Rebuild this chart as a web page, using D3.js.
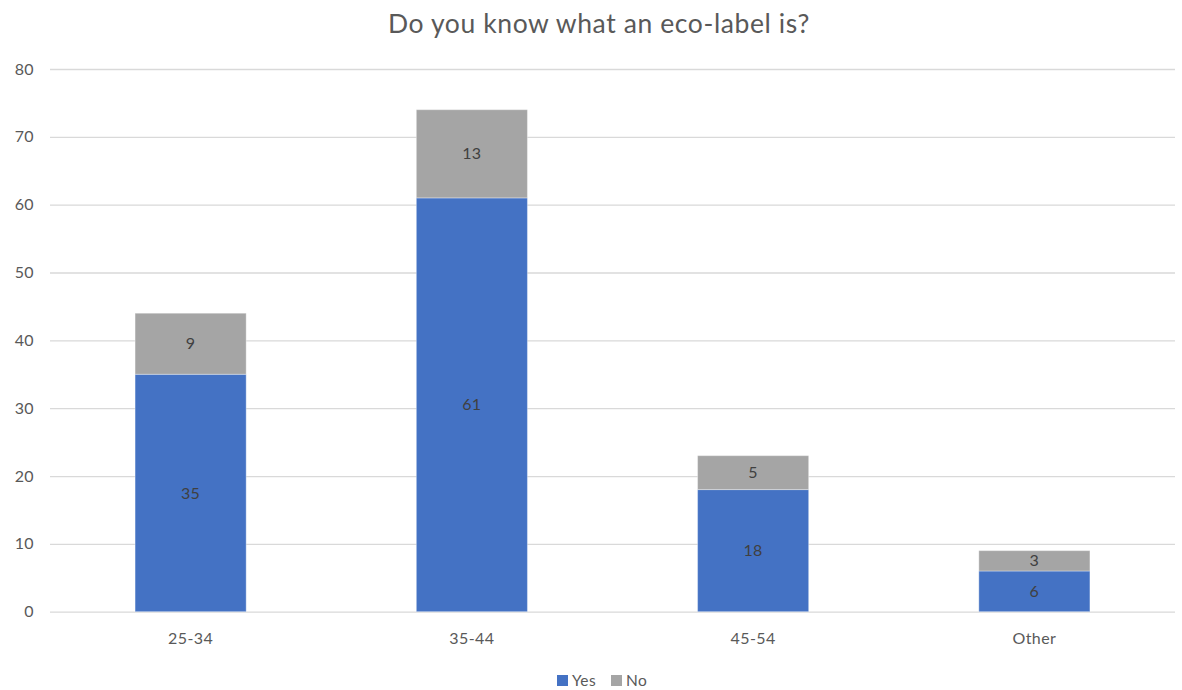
<!DOCTYPE html>
<html>
<head>
<meta charset="utf-8">
<script src="https://cdn.jsdelivr.net/npm/d3@7"></script>
<style>
  html, body { margin: 0; padding: 0; background: #fff; }
  svg { display: block; font-family: Lato, "Open Sans", sans-serif; }
</style>
</head>
<body>
<svg id="chart" width="1182" height="690"></svg>
<script>
// Survey responses by age group
const categories = ["25-34", "35-44", "45-54", "Other"];
const yesValues = [35, 61, 18, 6];
const noValues = [9, 13, 5, 3];
const seriesNames = ["Yes", "No"];
const seriesColors = ["#4472C4", "#A5A5A5"];
const yTicks = [0, 10, 20, 30, 40, 50, 60, 70, 80];

const svg = d3.select("#chart");
const margin = { left: 50, right: 7, top: 69, bottom: 78 };
const W = 1182, H = 690;

const x = d3.scaleBand()
  .domain(categories)
  .range([margin.left, W - margin.right])
  .paddingInner(0.605)
  .paddingOuter(0.3025);

const y = d3.scaleLinear()
  .domain([0, 80])
  .range([H - margin.bottom - 0.3, margin.top]);

// Title
svg.append("text")
  .attr("x", 599)
  .attr("y", 33)
  .attr("text-anchor", "middle")
  .attr("font-size", 26.5)
  .attr("letter-spacing", 0.6)
  .attr("fill", "#595959")
  .text("Do you know what an eco-label is?");

// Gridlines and y tick labels
const yAxis = d3.axisLeft(y)
  .tickValues(yTicks)
  .tickSize(-(W - margin.right - margin.left))
  .tickPadding(16);
const gy = svg.append("g")
  .attr("transform", `translate(${margin.left},0)`)
  .call(yAxis);
gy.select(".domain").remove();
gy.selectAll(".tick line").attr("stroke", "#D9D9D9").attr("stroke-width", 1.3);
gy.selectAll(".tick text")
  .attr("fill", "#595959")
  .attr("font-size", 16)
  .attr("letter-spacing", 0.4)
  .attr("font-family", "Lato, sans-serif");

// Stacked data
const rows = categories.map((c, i) => ({ category: c, Yes: yesValues[i], No: noValues[i] }));
const stack = d3.stack().keys(seriesNames);
const layers = stack(rows);

const color = d3.scaleOrdinal().domain(seriesNames).range(seriesColors);

const layerG = svg.append("g").selectAll("g")
  .data(layers)
  .join("g")
  .attr("fill", d => color(d.key));

layerG.selectAll("rect")
  .data(d => d)
  .join("rect")
  .attr("x", d => x(d.data.category))
  .attr("width", x.bandwidth())
  .attr("y", d => y(d[1]))
  .attr("height", d => y(d[0]) - y(d[1]))
  .attr("stroke", "#ffffff")
  .attr("stroke-opacity", 0.35)
  .attr("stroke-width", 1);

// Value labels centred in each segment
layerG.selectAll("text")
  .data(d => d)
  .join("text")
  .attr("x", d => x(d.data.category) + x.bandwidth() / 2)
  .attr("y", d => (y(d[0]) + y(d[1])) / 2)
  .attr("dy", "0.35em")
  .attr("text-anchor", "middle")
  .attr("font-size", 16)
  .attr("letter-spacing", 0.3)
  .attr("fill", "#404040")
  .text(d => d[1] - d[0]);

// Category axis labels
const xAxis = d3.axisBottom(x).tickSize(0).tickPadding(21);
const gx = svg.append("g")
  .attr("transform", `translate(0,${y(0)})`)
  .call(xAxis);
gx.select(".domain").remove();
gx.selectAll(".tick text")
  .attr("fill", "#595959")
  .attr("font-size", 16)
  .attr("letter-spacing", 0.4)
  .attr("font-family", "Lato, sans-serif");

// Legend
const legend = svg.append("g");
const legendItems = [
  { name: seriesNames[0], x: 557 },
  { name: seriesNames[1], x: 611 }
];
legendItems.forEach((item, i) => {
  legend.append("rect")
    .attr("x", item.x)
    .attr("y", 675)
    .attr("width", 11)
    .attr("height", 11)
    .attr("fill", seriesColors[i]);
  legend.append("text")
    .attr("x", item.x + 15)
    .attr("y", 680.5)
    .attr("dy", "0.35em")
    .attr("font-size", 15.5)
    .attr("letter-spacing", 0.4)
    .attr("fill", "#595959")
    .text(item.name);
});
</script>
</body>
</html>
